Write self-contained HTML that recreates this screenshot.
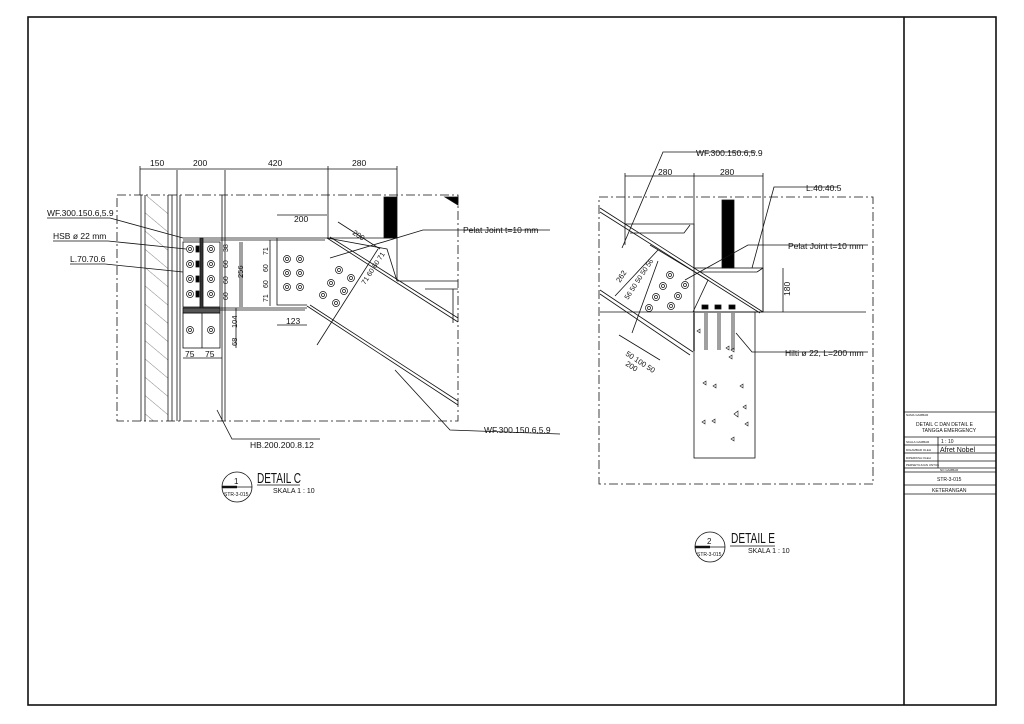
<!DOCTYPE html>
<html><head><meta charset="utf-8"><style>
html,body{margin:0;padding:0;background:#fff}
svg{display:block}
text{font-family:"Liberation Sans",sans-serif;fill:#111}
</style></head><body>
<svg width="1024" height="724" viewBox="0 0 1024 724" xmlns="http://www.w3.org/2000/svg">
<defs>
<pattern id="h" width="14" height="14" patternUnits="userSpaceOnUse" patternTransform="rotate(-50)"><line x1="0" y1="0" x2="0" y2="14" stroke="#333" stroke-width="0.6"/></pattern>
</defs>
<g fill="none" stroke="#111" stroke-width="0.8">
<rect x="28" y="17" width="968" height="688" stroke-width="1.6"/>
<line x1="904" y1="17" x2="904" y2="705" stroke-width="1.6"/>
<line x1="904" y1="412" x2="996" y2="412"/>
<line x1="904" y1="437" x2="996" y2="437"/>
<line x1="904" y1="445" x2="996" y2="445"/>
<line x1="904" y1="453" x2="996" y2="453"/>
<line x1="904" y1="461" x2="996" y2="461"/>
<line x1="904" y1="468" x2="996" y2="468"/>
<line x1="904" y1="472" x2="996" y2="472"/>
<line x1="904" y1="485" x2="996" y2="485"/>
<line x1="904" y1="494" x2="996" y2="494"/>
<line x1="938" y1="437" x2="938" y2="468"/>

<!-- DETAIL C -->
<rect x="117" y="195" width="341" height="226" stroke-dasharray="9,3,2,3"/>
<rect x="145" y="195" width="23" height="226" fill="url(#h)" stroke="none"/>
<line x1="141" y1="195" x2="141" y2="421"/><line x1="145" y1="195" x2="145" y2="421"/><line x1="168" y1="195" x2="168" y2="421"/><line x1="172" y1="195" x2="172" y2="421"/>
<line x1="177" y1="170" x2="177" y2="421"/><line x1="180" y1="195" x2="180" y2="421"/>
<line x1="222" y1="195" x2="222" y2="421"/><line x1="225" y1="170" x2="225" y2="421"/>
<line x1="140" y1="169" x2="397" y2="169"/>
<line x1="140" y1="166" x2="140" y2="195"/><line x1="328" y1="166" x2="328" y2="238"/><line x1="397" y1="166" x2="397" y2="197"/>
<line x1="183" y1="238" x2="327" y2="238"/><line x1="183" y1="240" x2="325" y2="240"/>
<line x1="327" y1="238" x2="397" y2="238"/>
<line x1="183" y1="308" x2="307" y2="308"/><line x1="183" y1="310" x2="305" y2="310"/>
<rect x="183" y="242" width="37" height="65"/>
<rect x="200" y="238" width="3" height="72" fill="#333"/>
<rect x="183" y="308" width="37" height="5" fill="#555"/>
<rect x="183" y="313" width="37" height="35"/>
<line x1="202" y1="313" x2="202" y2="348"/>
<line x1="327" y1="238" x2="458" y2="322"/><line x1="330" y1="237" x2="458" y2="318"/>
<line x1="307" y1="306" x2="458" y2="405"/><line x1="310" y1="305" x2="458" y2="401"/>
<polyline points="277,238 277,305 307,305"/>
<polyline points="327,238 387,249 397,281"/>
<line x1="397" y1="238" x2="397" y2="281"/><line x1="397" y1="281" x2="458" y2="281"/>
<rect x="384" y="197" width="13" height="41" fill="#000"/>
<polygon points="445,197 458,197 458,205" fill="#000"/>
<line x1="425" y1="289" x2="458" y2="289"/><line x1="453" y1="289" x2="453" y2="323"/>
<g stroke-width="0.7">
<circle cx="190" cy="249" r="3.5"/><circle cx="190" cy="264" r="3.5"/><circle cx="190" cy="279" r="3.5"/><circle cx="190" cy="294" r="3.5"/>
<circle cx="211" cy="249" r="3.5"/><circle cx="211" cy="264" r="3.5"/><circle cx="211" cy="279" r="3.5"/><circle cx="211" cy="294" r="3.5"/>
<circle cx="190" cy="330" r="3.5"/><circle cx="211" cy="330" r="3.5"/>
<circle cx="287" cy="259" r="3.5"/><circle cx="287" cy="273" r="3.5"/><circle cx="287" cy="287" r="3.5"/>
<circle cx="300" cy="259" r="3.5"/><circle cx="300" cy="273" r="3.5"/><circle cx="300" cy="287" r="3.5"/>
<circle cx="339" cy="270" r="3.5"/><circle cx="351" cy="278" r="3.5"/><circle cx="331" cy="283" r="3.5"/><circle cx="344" cy="291" r="3.5"/><circle cx="323" cy="295" r="3.5"/><circle cx="336" cy="303" r="3.5"/>
<circle cx="190" cy="249" r="1.5"/><circle cx="190" cy="264" r="1.5"/><circle cx="190" cy="279" r="1.5"/><circle cx="190" cy="294" r="1.5"/>
<circle cx="211" cy="249" r="1.5"/><circle cx="211" cy="264" r="1.5"/><circle cx="211" cy="279" r="1.5"/><circle cx="211" cy="294" r="1.5"/>
<circle cx="190" cy="330" r="1.5"/><circle cx="211" cy="330" r="1.5"/>
<circle cx="287" cy="259" r="1.5"/><circle cx="287" cy="273" r="1.5"/><circle cx="287" cy="287" r="1.5"/>
<circle cx="300" cy="259" r="1.5"/><circle cx="300" cy="273" r="1.5"/><circle cx="300" cy="287" r="1.5"/>
<circle cx="339" cy="270" r="1.5"/><circle cx="351" cy="278" r="1.5"/><circle cx="331" cy="283" r="1.5"/><circle cx="344" cy="291" r="1.5"/><circle cx="323" cy="295" r="1.5"/><circle cx="336" cy="303" r="1.5"/>
</g>
<rect x="196" y="246" width="3" height="6" fill="#000"/><rect x="196" y="261" width="3" height="6" fill="#000"/><rect x="196" y="276" width="3" height="6" fill="#000"/><rect x="196" y="291" width="3" height="6" fill="#000"/>
<line x1="240" y1="242" x2="240" y2="307"/><line x1="242" y1="242" x2="242" y2="307"/>
<line x1="236" y1="308" x2="236" y2="348"/>
<line x1="270" y1="240" x2="270" y2="306"/>
<line x1="277" y1="215" x2="327" y2="215"/>
<line x1="183" y1="358" x2="222" y2="358"/>
<line x1="277" y1="325" x2="307" y2="325"/>
<line x1="338" y1="222" x2="380" y2="249"/>
<line x1="317" y1="345" x2="378" y2="249"/>
<polyline points="47,218 110,218 183,238"/>
<polyline points="53,241 108,241 186,249"/>
<polyline points="70,264 105,264 183,272"/>
<polyline points="217,410 232,439 320,439"/>
<polyline points="395,370 450,430 560,434"/>
<polyline points="330,258 423,230 550,230"/>
<circle cx="237" cy="487" r="15"/>
<line x1="222" y1="487" x2="252" y2="487"/>
<line x1="222" y1="487" x2="237" y2="487" stroke-width="2.5"/>
<line x1="257" y1="485" x2="300" y2="485"/>

<!-- DETAIL E -->
<rect x="599" y="197" width="274" height="287" stroke-dasharray="9,3,2,3"/>
<line x1="625" y1="176" x2="763" y2="176"/>
<line x1="625" y1="173" x2="625" y2="224"/><line x1="694" y1="173" x2="694" y2="268"/><line x1="763" y1="173" x2="763" y2="312"/>
<rect x="722" y="200" width="12" height="68" fill="#000"/>
<polyline points="625,224 694,224 694,268"/><line x1="625" y1="224" x2="625" y2="245"/>
<polyline points="690,225 684,233 630,233"/>
<rect x="694" y="268" width="69" height="44"/>
<line x1="757" y1="272" x2="700" y2="272"/><line x1="757" y1="272" x2="763" y2="268"/>
<line x1="600" y1="312" x2="866" y2="312"/>
<line x1="783" y1="268" x2="783" y2="312"/>
<rect x="694" y="312" width="61" height="146"/>
<line x1="694" y1="313" x2="694" y2="351" stroke-width="2" stroke="#666"/>
<line x1="705" y1="313" x2="705" y2="350"/><line x1="707" y1="313" x2="707" y2="350"/>
<line x1="718" y1="313" x2="718" y2="350"/><line x1="720" y1="313" x2="720" y2="350"/>
<line x1="732" y1="313" x2="732" y2="350"/><line x1="734" y1="313" x2="734" y2="350"/>
<rect x="702" y="305" width="6" height="4" fill="#000"/><rect x="715" y="305" width="6" height="4" fill="#000"/><rect x="729" y="305" width="6" height="4" fill="#000"/>
<g stroke-width="0.6">
<polygon points="697,331 700,329 700,333"/><polygon points="726,348 729,346 729,350"/><polygon points="731,350 734,348 734,352"/><polygon points="729,357 732,355 732,359"/>
<polygon points="703,383 706,381 706,385"/><polygon points="713,386 716,384 716,388"/><polygon points="740,386 743,384 743,388"/><polygon points="743,407 746,405 746,409"/>
<polygon points="734,414 738,411 738,417"/><polygon points="702,422 705,420 705,424"/><polygon points="712,421 715,419 715,423"/><polygon points="745,424 748,422 748,426"/><polygon points="731,439 734,437 734,441"/>
</g>
<line x1="600" y1="208" x2="763" y2="312"/><line x1="600" y1="212" x2="760" y2="313"/>
<line x1="600" y1="290" x2="693" y2="352"/><line x1="600" y1="294" x2="690" y2="355"/>
<polyline points="650,245 708,280 693,312"/>
<g stroke-width="0.7">
<circle cx="670" cy="275" r="3.5"/><circle cx="663" cy="286" r="3.5"/><circle cx="656" cy="297" r="3.5"/><circle cx="649" cy="308" r="3.5"/>
<circle cx="685" cy="285" r="3.5"/><circle cx="678" cy="296" r="3.5"/><circle cx="671" cy="306" r="3.5"/>
<circle cx="670" cy="275" r="1.5"/><circle cx="663" cy="286" r="1.5"/><circle cx="656" cy="297" r="1.5"/><circle cx="649" cy="308" r="1.5"/>
<circle cx="685" cy="285" r="1.5"/><circle cx="678" cy="296" r="1.5"/><circle cx="671" cy="306" r="1.5"/>
</g>
<line x1="615" y1="296" x2="658" y2="250"/>
<line x1="619" y1="335" x2="660" y2="360"/>
<line x1="632" y1="333" x2="658" y2="261"/>
<polyline points="622,248 663,152 756,152"/>
<polyline points="752,268 774,187 838,187"/>
<polyline points="685,280 748,245 868,245"/>
<polyline points="736,333 752,352 868,352"/>
<circle cx="710" cy="547" r="15"/>
<line x1="695" y1="547" x2="725" y2="547"/>
<line x1="695" y1="547" x2="710" y2="547" stroke-width="2.5"/>
<line x1="730" y1="546" x2="775" y2="546"/>
</g>

<g font-size="8.5">
<text x="150" y="166">150</text><text x="193" y="166">200</text><text x="268" y="166">420</text><text x="352" y="166">280</text>
<text x="294" y="222">200</text>
<text x="47" y="216">WF.300.150.6,5.9</text>
<text x="53" y="239">HSB ø 22 mm</text>
<text x="70" y="262">L.70.70.6</text>
<text x="463" y="233">Pelat Joint t=10 mm</text>
<text x="250" y="448">HB.200.200.8.12</text>
<text x="484" y="433">WF.300.150.6,5.9</text>
<text x="185" y="357">75</text><text x="205" y="357">75</text>
<text x="286" y="324">123</text>
<text x="658" y="175">280</text><text x="720" y="175">280</text>
<text x="696" y="156">WF.300.150.6,5.9</text>
<text x="806" y="191">L.40.40.5</text>
<text x="788" y="249">Pelat Joint t=10 mm</text>
<text x="785" y="356">Hilti ø 22, L=200 mm</text>
<text x="790" y="296" transform="rotate(-90 790 296)">180</text>
<text x="243" y="278" transform="rotate(-90 243 278)" font-size="7.5">256</text>
<text x="237" y="328" transform="rotate(-90 237 328)" font-size="7.5">104</text>
<text x="237" y="346" transform="rotate(-90 237 346)" font-size="7.5">68</text>
<text x="228" y="252" transform="rotate(-90 228 252)" font-size="7">38</text>
<text x="228" y="268" transform="rotate(-90 228 268)" font-size="7">60</text>
<text x="228" y="284" transform="rotate(-90 228 284)" font-size="7">60</text>
<text x="228" y="300" transform="rotate(-90 228 300)" font-size="7">60</text>
<text x="268" y="255" transform="rotate(-90 268 255)" font-size="7">71</text>
<text x="268" y="272" transform="rotate(-90 268 272)" font-size="7">60</text>
<text x="268" y="288" transform="rotate(-90 268 288)" font-size="7">60</text>
<text x="268" y="302" transform="rotate(-90 268 302)" font-size="7">71</text>
<text x="352" y="234" transform="rotate(33 352 234)" font-size="7.5">200</text>
<text x="365" y="285" transform="rotate(-57 365 285)" font-size="7">71 60 60 71</text>
<text x="625" y="355" transform="rotate(33 625 355)" font-size="7.5">50 100 50</text>
<text x="625" y="365" transform="rotate(33 625 365)" font-size="7.5">200</text>
<text x="620" y="283" transform="rotate(-57 620 283)" font-size="7.5">262</text>
<text x="628" y="300" transform="rotate(-57 628 300)" font-size="7">56 50 50 50 56</text>
<text x="257" y="483" font-size="15" textLength="44" lengthAdjust="spacingAndGlyphs">DETAIL C</text>
<text x="273" y="493" font-size="7">SKALA 1 : 10</text>
<text x="731" y="543" font-size="15" textLength="44" lengthAdjust="spacingAndGlyphs">DETAIL E</text>
<text x="748" y="553" font-size="7">SKALA 1 : 10</text>
<text x="234" y="484" font-size="8">1</text>
<text x="707" y="544" font-size="8">2</text>
<text x="224" y="496" font-size="5">STR-3-015</text>
<text x="697" y="556" font-size="5">STR-3-015</text>
</g>
<g font-size="5">
<text x="906" y="416" font-size="3">NAMA GAMBAR</text>
<text x="916" y="426">DETAIL C DAN DETAIL E</text>
<text x="922" y="432">TANGGA EMERGENCY</text>
<text x="906" y="443" font-size="3">SKALA GAMBAR</text><text x="941" y="443">1 : 10</text>
<text x="906" y="451" font-size="3">DIGAMBAR OLEH</text><text x="940" y="452" font-size="7">Afret Nobel</text>
<text x="906" y="459" font-size="3">DIPERIKSA OLEH</text>
<text x="906" y="466" font-size="3">PERSETUJUAN UNTUK</text>
<text x="940" y="471" font-size="3">NO GAMBAR</text>
<text x="937" y="481">STR-3-015</text>
<text x="932" y="492">KETERANGAN</text>
</g>
</svg>
</body></html>
